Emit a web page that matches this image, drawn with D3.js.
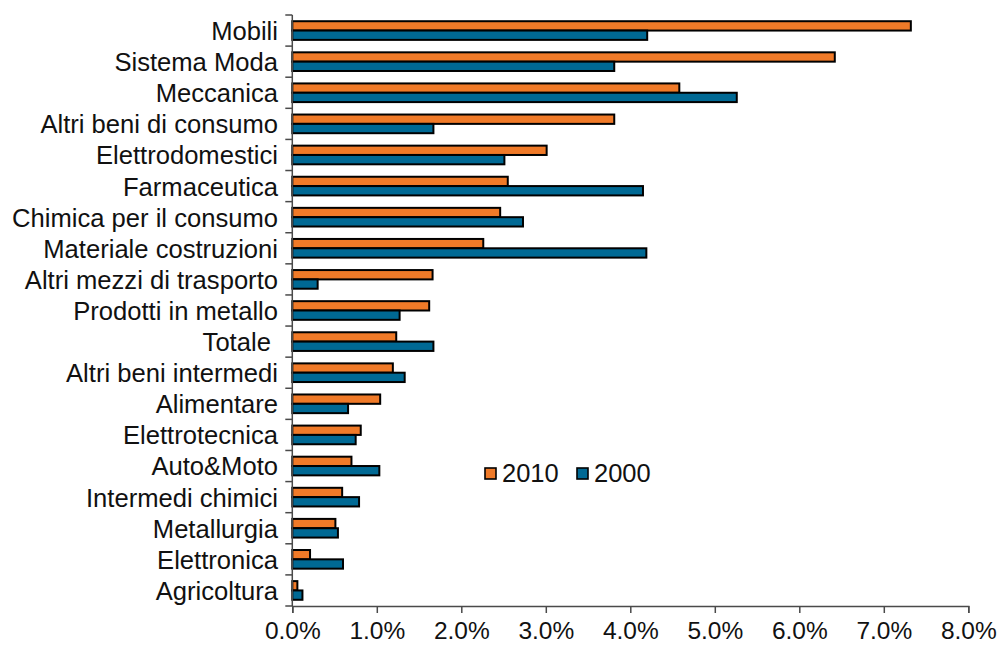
<!DOCTYPE html>
<html>
<head>
<meta charset="utf-8">
<script src="https://cdn.jsdelivr.net/npm/d3@7"></script>
<style>
  html, body { margin: 0; padding: 0; background: #fff; }
  svg { display: block; font-family: "Liberation Sans", Arial, Helvetica, sans-serif; }
  text.cat { white-space: pre; }
</style>
</head>
<body>
<svg id="chart" width="1001" height="649"></svg>
<script>
// Sectors, top to bottom
const categories = [
  "Mobili", "Sistema Moda", "Meccanica", "Altri beni di consumo",
  "Elettrodomestici", "Farmaceutica", "Chimica per il consumo",
  "Materiale costruzioni", "Altri mezzi di trasporto", "Prodotti in metallo",
  "Totale ", "Altri beni intermedi", "Alimentare", "Elettrotecnica",
  "Auto&Moto", "Intermedi chimici", "Metallurgia", "Elettronica", "Agricoltura"
];

// Shares (%) per year
const values2010 = [7.32, 6.42, 4.58, 3.81, 3.01, 2.55, 2.46, 2.26, 1.66, 1.62,
                    1.23, 1.19, 1.04, 0.81, 0.70, 0.59, 0.51, 0.21, 0.06];
const values2000 = [4.20, 3.81, 5.26, 1.67, 2.51, 4.15, 2.73, 4.19, 0.30, 1.27,
                    1.67, 1.33, 0.66, 0.75, 1.03, 0.79, 0.54, 0.60, 0.12];

const seriesNames = ["2010", "2000"];
const seriesColors = { "2010": "#F07A28", "2000": "#006994" };
const xTicks = [0, 1, 2, 3, 4, 5, 6, 7, 8];

const svg = d3.select("#chart");

const x = d3.scaleLinear().domain([0, 8]).range([292.3, 968.3]);
const y = d3.scaleBand().domain(categories).range([15, 606])
  .paddingInner(0.4).paddingOuter(0.2);
const ySub = d3.scaleBand().domain(seriesNames).range([0, y.bandwidth()]);

const rows = categories.map((c, i) => ({
  name: c,
  vals: [
    { key: "2010", v: values2010[i] },
    { key: "2000", v: values2000[i] }
  ]
}));

// Bars
const g = svg.append("g");
const rowG = g.selectAll("g.row").data(rows).join("g")
  .attr("class", "row")
  .attr("transform", d => `translate(0,${y(d.name)})`);

rowG.selectAll("rect").data(d => d.vals).join("rect")
  .attr("x", x(0))
  .attr("y", d => ySub(d.key))
  .attr("width", d => x(d.v) - x(0))
  .attr("height", ySub.bandwidth())
  .attr("fill", d => seriesColors[d.key])
  .attr("stroke", "#000")
  .attr("stroke-width", 2);

// Y axis: line plus ticks at the band boundaries
const axisColor = "#4a4a4a";
const boundaries = d3.range(categories.length + 1).map(i => 15 + i * y.step());
svg.append("line")
  .attr("x1", x(0)).attr("x2", x(0))
  .attr("y1", 15).attr("y2", 606)
  .attr("stroke", axisColor).attr("stroke-width", 1.5);
svg.selectAll("line.ytick").data(boundaries).join("line")
  .attr("class", "ytick")
  .attr("x1", x(0) - 7).attr("x2", x(0))
  .attr("y1", d => d).attr("y2", d => d)
  .attr("stroke", axisColor).attr("stroke-width", 1.5);

// Category labels
svg.selectAll("text.cat").data(categories).join("text")
  .attr("class", "cat")
  .attr("x", 278)
  .attr("y", d => y(d) + y.bandwidth() / 2)
  .attr("dy", "0.37em")
  .attr("text-anchor", "end")
  .attr("font-size", 25.6)
  .attr("fill", "#111")
  .text(d => d);

// X axis
const xAxis = d3.axisBottom(x)
  .tickValues(xTicks)
  .tickSize(7)
  .tickPadding(9)
  .tickFormat(d => d.toFixed(1) + "%");
const xg = svg.append("g")
  .attr("transform", "translate(0,606)")
  .call(xAxis);
xg.select(".domain").attr("stroke", axisColor).attr("stroke-width", 1.5);
xg.selectAll(".tick line").attr("stroke", axisColor).attr("stroke-width", 1.5);
xg.selectAll(".tick text")
  .attr("font-size", 24.5)
  .attr("fill", "#111")
  .attr("font-family", "\"Liberation Sans\", Arial, Helvetica, sans-serif");

// Legend
const legend = svg.append("g").attr("transform", "translate(485,468)");
const legendX = { "2010": 0, "2000": 92 };
const li = legend.selectAll("g").data(seriesNames).join("g")
  .attr("transform", d => `translate(${legendX[d]},0)`);
li.append("rect")
  .attr("width", 11).attr("height", 11)
  .attr("fill", d => seriesColors[d])
  .attr("stroke", "#000").attr("stroke-width", 1.6);
li.append("text")
  .attr("x", 17).attr("y", 14)
  .attr("font-size", 25.5)
  .attr("fill", "#111")
  .text(d => d);
</script>
</body>
</html>
